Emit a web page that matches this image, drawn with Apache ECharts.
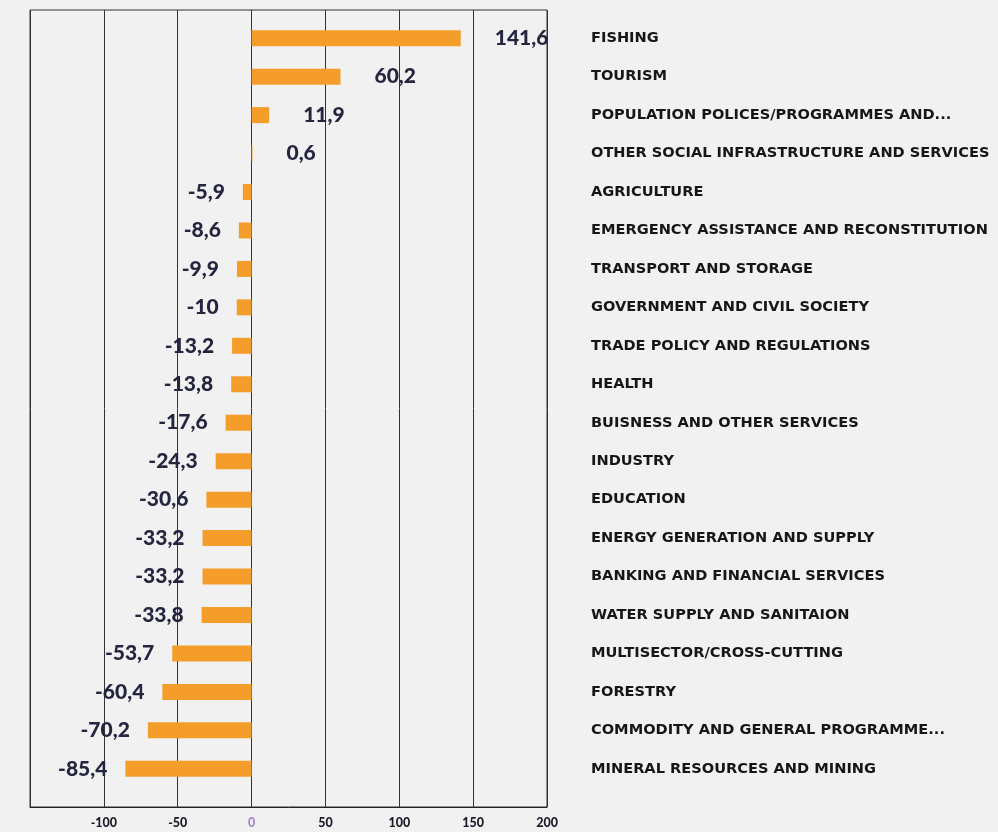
<!DOCTYPE html>
<html>
<head>
<meta charset="utf-8">
<script src="https://cdn.jsdelivr.net/npm/echarts@6/dist/echarts.min.js"></script>
<style>
html, body { margin: 0; padding: 0; background: #f1f1f1; }
#chart { width: 998px; height: 832px; }
</style>
</head>
<body>
<div id="chart"></div>
<script>
// sectors, top to bottom
var sectors = [
    'FISHING',
    'TOURISM',
    'POPULATION POLICES/PROGRAMMES AND...',
    'OTHER SOCIAL INFRASTRUCTURE AND SERVICES',
    'AGRICULTURE',
    'EMERGENCY ASSISTANCE AND RECONSTITUTION',
    'TRANSPORT AND STORAGE',
    'GOVERNMENT AND CIVIL SOCIETY',
    'TRADE POLICY AND REGULATIONS',
    'HEALTH',
    'BUISNESS AND OTHER SERVICES',
    'INDUSTRY',
    'EDUCATION',
    'ENERGY GENERATION AND SUPPLY',
    'BANKING AND FINANCIAL SERVICES',
    'WATER SUPPLY AND SANITAION',
    'MULTISECTOR/CROSS-CUTTING',
    'FORESTRY',
    'COMMODITY AND GENERAL PROGRAMME...',
    'MINERAL RESOURCES AND MINING'
];
var changes = [141.6, 60.2, 11.9, 0.6, -5.9, -8.6, -9.9, -10, -13.2, -13.8,
    -17.6, -24.3, -30.6, -33.2, -33.2, -33.8, -53.7, -60.4, -70.2, -85.4];

var xMin = -150, xMax = 200, xStep = 50;

var chart = echarts.init(document.getElementById('chart'));

var barData = changes.map(function (v) {
    return {
        value: v,
        label: {
            position: v >= 0 ? 'right' : 'left',
            distance: v >= 0 ? 34 : 18
        }
    };
});

var option = {
    backgroundColor: '#f1f1f1',
    animation: false,
    grid: [
        // frame with vertical lines
        { left: 30, right: 451, top: 10, bottom: 25, show: true, borderColor: '#333', borderWidth: 1 },
        // bars
        { left: 30, right: 451, top: 19, bottom: 44 }
    ],
    xAxis: [{
        gridIndex: 0,
        type: 'value',
        min: xMin, max: xMax, interval: xStep,
        axisLine: { show: true, lineStyle: { color: '#222' } },
        axisTick: { show: false },
        splitLine: { show: true, lineStyle: { color: '#333', width: 1 } },
        axisLabel: {
            margin: 9,
            fontFamily: 'Lato',
            fontWeight: 900,
            fontSize: 12.5,
            color: '#1b1b2a',
            formatter: function (v) {
                if (v === xMin) return '';
                if (v === 0) return '{zero|0}';
                return v;
            },
            rich: { zero: { color: '#a585cc', fontFamily: 'Lato', fontWeight: 900, fontSize: 12.5 } }
        }
    }, {
        gridIndex: 1,
        type: 'value',
        min: xMin, max: xMax, interval: xStep,
        show: false
    }],
    yAxis: [{
        gridIndex: 0,
        type: 'value',
        show: false
    }, {
        gridIndex: 1,
        type: 'category',
        data: sectors,
        inverse: true,
        position: 'right',
        axisLine: { show: false },
        axisTick: { show: false },
        axisLabel: {
            margin: 44,
            align: 'left',
            padding: [3, 0, 0, 0],
            fontFamily: 'DejaVu Sans',
            fontWeight: 'bold',
            fontSize: 14.6,
            color: '#161616'
        }
    }],
    series: [{
        type: 'bar',
        xAxisIndex: 1,
        yAxisIndex: 1,
        data: barData,
        barWidth: 16,
        itemStyle: { color: '#f49d2b' },
        label: {
            show: true,
            fontFamily: 'Lato',
            fontWeight: 900,
            fontSize: 21,
            color: '#24253f',
            formatter: function (p) {
                return String(p.value).replace('.', ',');
            }
        }
    }]
};

chart.setOption(option);
</script>
</body>
</html>
